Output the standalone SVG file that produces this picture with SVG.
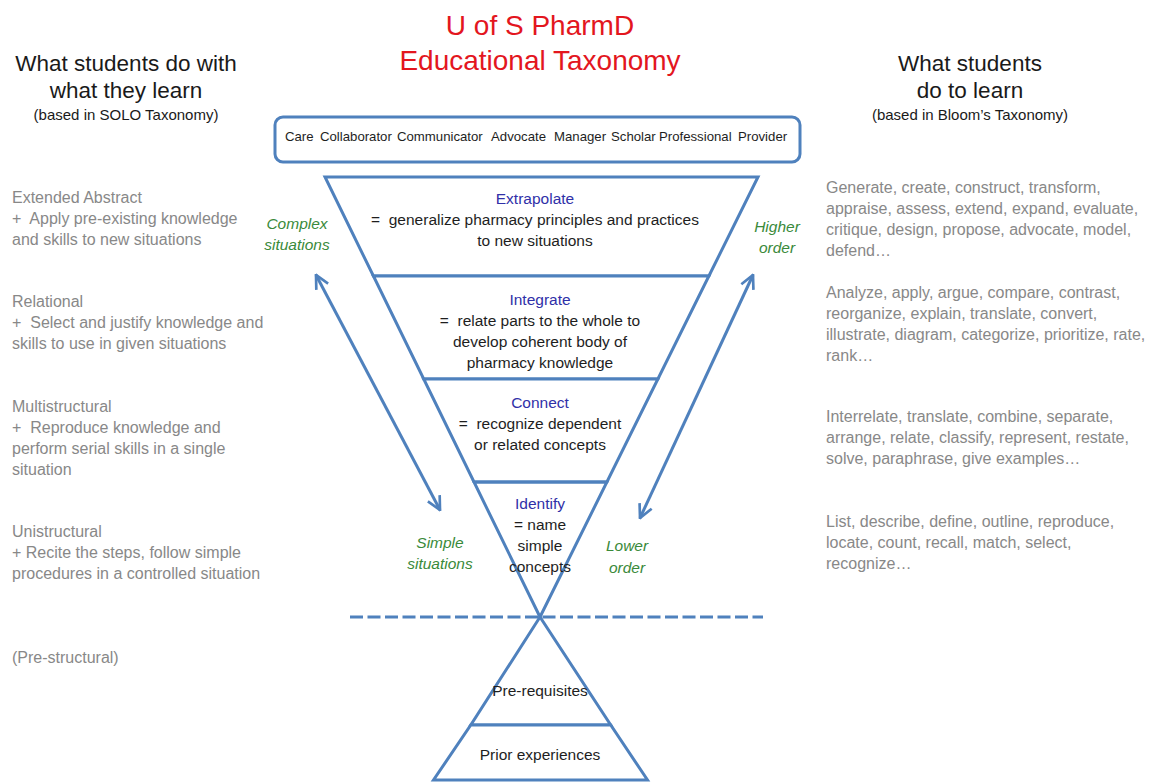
<svg xmlns="http://www.w3.org/2000/svg" width="1151" height="782" viewBox="0 0 1151 782">
<style>
text{font-family:"Liberation Sans",Arial,sans-serif;white-space:pre}
.title{font-size:28px;fill:#e3161e;text-anchor:middle}
.hdr{font-size:22.5px;fill:#1a1a1a;text-anchor:middle}
.sub{font-size:15px;fill:#1a1a1a;text-anchor:middle}
.gray{font-size:16px;fill:#888888}
.lvl{font-size:15.5px;fill:#3030a8;text-anchor:middle}
.body{font-size:15.5px;fill:#1e1e1e;text-anchor:middle}
.green{font-size:15.5px;fill:#3a8a3a;font-style:italic;text-anchor:middle}
.role{font-size:13.2px;fill:#1e1e1e}
.shape{fill:#ffffff;stroke:#4f81bd;stroke-width:3;stroke-linejoin:miter}
.conn{fill:none;stroke:#4f81bd;stroke-width:3}
</style>
<defs>
<marker id="head" viewBox="0 0 12 12" refX="11" refY="6" markerWidth="16" markerHeight="16" markerUnits="userSpaceOnUse" orient="auto-start-reverse">
<path d="M1,1 L11,6 L1,11" fill="none" stroke="#4f81bd" stroke-width="2"/>
</marker>
</defs>
<rect width="1151" height="782" fill="#ffffff"/>

<g id="title">
<text class="title" x="540" y="35">U of S PharmD</text>
<text class="title" x="540" y="70">Educational Taxonomy</text>
</g>

<g id="left-header">
<text class="hdr" x="126" y="71">What students do with</text>
<text class="hdr" x="126" y="98">what they learn</text>
<text class="sub" x="126" y="120">(based in SOLO Taxonomy)</text>
</g>

<g id="right-header">
<text class="hdr" x="970" y="71">What students</text>
<text class="hdr" x="970" y="98">do to learn</text>
<text class="sub" x="970" y="120">(based in Bloom’s Taxonomy)</text>
</g>

<g id="roles-box">
<rect class="shape" x="275" y="117" width="525" height="45" rx="8" ry="8"/>
<text class="role" x="285" y="141">Care</text>
<text class="role" x="320" y="141">Collaborator</text>
<text class="role" x="397" y="141">Communicator</text>
<text class="role" x="491" y="141">Advocate</text>
<text class="role" x="554" y="141">Manager</text>
<text class="role" x="611" y="141">Scholar</text>
<text class="role" x="659" y="141">Professional</text>
<text class="role" x="738" y="141">Provider</text>
</g>

<g id="level-extrapolate">
<polygon class="shape" points="325,177 758,177 708.9,276 373.4,276"/>
<text class="lvl" x="535" y="204">Extrapolate</text>
<text class="body" x="535" y="225" xml:space="preserve">=  generalize pharmacy principles and practices</text>
<text class="body" x="535" y="246">to new situations</text>
</g>

<g id="level-integrate">
<polygon class="shape" points="373.4,276 708.9,276 657.9,379 423.7,379"/>
<text class="lvl" x="540" y="305">Integrate</text>
<text class="body" x="540" y="326" xml:space="preserve">=  relate parts to the whole to</text>
<text class="body" x="540" y="347">develop coherent body of</text>
<text class="body" x="540" y="368">pharmacy knowledge</text>
</g>

<g id="level-connect">
<polygon class="shape" points="423.7,379 657.9,379 606.9,482 474,482"/>
<text class="lvl" x="540" y="408">Connect</text>
<text class="body" x="540" y="429" xml:space="preserve">=  recognize dependent</text>
<text class="body" x="540" y="450">or related concepts</text>
</g>

<g id="level-identify">
<polygon class="shape" points="474,482 606.9,482 540,617" style="fill:none"/>
<text class="lvl" x="540" y="509">Identify</text>
<text class="body" x="540" y="530">= name</text>
<text class="body" x="540" y="551">simple</text>
<text class="body" x="540" y="572">concepts</text>
</g>

<g id="prerequisites">
<polygon class="shape" points="540,617 470.8,725 610.7,725"/>
<text class="body" x="540" y="696">Pre-requisites</text>
</g>

<g id="prior-experiences">
<polygon class="shape" points="470.8,725 610.7,725 647.5,780 433.5,780"/>
<text class="body" x="540" y="760">Prior experiences</text>
</g>

<g id="solo-levels">
<text class="gray" x="12" y="203">Extended Abstract</text>
<text class="gray" x="12" y="224" xml:space="preserve">+  Apply pre-existing knowledge</text>
<text class="gray" x="12" y="245">and skills to new situations</text>
<text class="gray" x="12" y="307">Relational</text>
<text class="gray" x="12" y="328" xml:space="preserve">+  Select and justify knowledge and</text>
<text class="gray" x="12" y="349">skills to use in given situations</text>
<text class="gray" x="12" y="412">Multistructural</text>
<text class="gray" x="12" y="433" xml:space="preserve">+  Reproduce knowledge and</text>
<text class="gray" x="12" y="454">perform serial skills in a single</text>
<text class="gray" x="12" y="475">situation</text>
<text class="gray" x="12" y="537">Unistructural</text>
<text class="gray" x="12" y="558">+ Recite the steps, follow simple</text>
<text class="gray" x="12" y="579">procedures in a controlled situation</text>
<text class="gray" x="12" y="663">(Pre-structural)</text>
</g>

<g id="bloom-verbs">
<text class="gray" x="826" y="193">Generate, create, construct, transform,</text>
<text class="gray" x="826" y="214">appraise, assess, extend, expand, evaluate,</text>
<text class="gray" x="826" y="235">critique, design, propose, advocate, model,</text>
<text class="gray" x="826" y="256">defend…</text>
<text class="gray" x="826" y="298">Analyze, apply, argue, compare, contrast,</text>
<text class="gray" x="826" y="319">reorganize, explain, translate, convert,</text>
<text class="gray" x="826" y="340">illustrate, diagram, categorize, prioritize, rate,</text>
<text class="gray" x="826" y="361">rank…</text>
<text class="gray" x="826" y="422">Interrelate, translate, combine, separate,</text>
<text class="gray" x="826" y="443">arrange, relate, classify, represent, restate,</text>
<text class="gray" x="826" y="464">solve, paraphrase, give examples…</text>
<text class="gray" x="826" y="527">List, describe, define, outline, reproduce,</text>
<text class="gray" x="826" y="548">locate, count, recall, match, select,</text>
<text class="gray" x="826" y="569">recognize…</text>
</g>

<g id="complexity-labels">
<text class="green" x="297" y="229">Complex</text>
<text class="green" x="297" y="250">situations</text>
<text class="green" x="440" y="548">Simple</text>
<text class="green" x="440" y="569">situations</text>
<text class="green" x="777" y="232">Higher</text>
<text class="green" x="777" y="253">order</text>
<text class="green" x="627" y="551">Lower</text>
<text class="green" x="627" y="573">order</text>
</g>

<g id="connectors">
<line class="conn" x1="316" y1="275" x2="440" y2="510" marker-start="url(#head)" marker-end="url(#head)"/>
<line class="conn" x1="753" y1="275" x2="640" y2="518" marker-start="url(#head)" marker-end="url(#head)"/>
<line class="conn" x1="350" y1="617" x2="763" y2="617" stroke-width="3.5" stroke-dasharray="13,4.5"/>
</g>
</svg>
